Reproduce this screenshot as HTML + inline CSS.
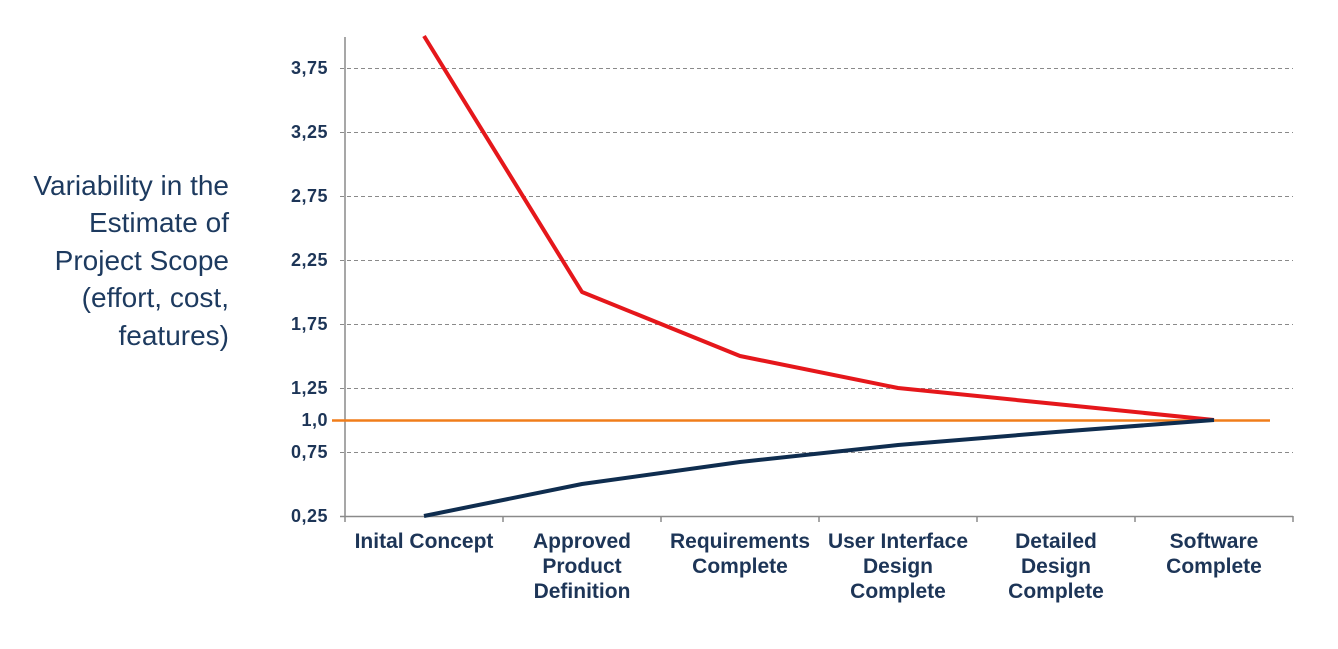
<!DOCTYPE html>
<html><head><style>
html,body{margin:0;padding:0;background:#fff;}
</style></head><body>
<svg width="1338" height="644" viewBox="0 0 1338 644" xmlns="http://www.w3.org/2000/svg" font-family="Liberation Sans, Arial, sans-serif">
<g stroke="#8a8a8a" stroke-width="1" stroke-dasharray="4,3">
<line x1="340" y1="68.5" x2="1293" y2="68.5"/>
<line x1="340" y1="132.5" x2="1293" y2="132.5"/>
<line x1="340" y1="196.5" x2="1293" y2="196.5"/>
<line x1="340" y1="260.5" x2="1293" y2="260.5"/>
<line x1="340" y1="324.5" x2="1293" y2="324.5"/>
<line x1="340" y1="388.5" x2="1293" y2="388.5"/>
<line x1="340" y1="452.5" x2="1293" y2="452.5"/>
</g>
<g stroke="#8a8a8a" stroke-width="1.5">
<line x1="345" y1="37" x2="345" y2="517"/>
<line x1="340" y1="516.5" x2="1293" y2="516.5"/>
<line x1="345" y1="516" x2="345" y2="522"/>
<line x1="503" y1="516" x2="503" y2="522"/>
<line x1="661" y1="516" x2="661" y2="522"/>
<line x1="819" y1="516" x2="819" y2="522"/>
<line x1="977" y1="516" x2="977" y2="522"/>
<line x1="1135" y1="516" x2="1135" y2="522"/>
<line x1="1293" y1="516" x2="1293" y2="522"/>
</g>
<line x1="332" y1="420.5" x2="1270" y2="420.5" stroke="#f07d1a" stroke-width="2.5"/>
<polyline points="424,36 582,292 740,356 898,388 1056,404 1214,420" fill="none" stroke="#e5171b" stroke-width="4" stroke-linejoin="round"/>
<polyline points="424,516 582,484 740,462 898,445 1056,432 1214,420" fill="none" stroke="#0f2d4f" stroke-width="4" stroke-linejoin="round"/>
<g fill="#1d3557" font-size="18" font-weight="bold" text-anchor="end" letter-spacing="0.5">
<text x="328" y="74">3,75</text>
<text x="328" y="138">3,25</text>
<text x="328" y="202">2,75</text>
<text x="328" y="266">2,25</text>
<text x="328" y="330">1,75</text>
<text x="328" y="394">1,25</text>
<text x="328" y="426">1,0</text>
<text x="328" y="458">0,75</text>
<text x="328" y="522">0,25</text>
</g>
<g fill="#1d3557" font-size="21" font-weight="bold" text-anchor="middle">
<text x="424" y="548">Inital Concept</text>
<text x="582" y="548">Approved</text><text x="582" y="573">Product</text><text x="582" y="598">Definition</text>
<text x="740" y="548">Requirements</text><text x="740" y="573">Complete</text>
<text x="898" y="548">User Interface</text><text x="898" y="573">Design</text><text x="898" y="598">Complete</text>
<text x="1056" y="548">Detailed</text><text x="1056" y="573">Design</text><text x="1056" y="598">Complete</text>
<text x="1214" y="548">Software</text><text x="1214" y="573">Complete</text>
</g>
<g fill="#1d3a5f" font-size="28" text-anchor="end">
<text x="229" y="195">Variability in the</text>
<text x="229" y="232">Estimate of</text>
<text x="229" y="270">Project Scope</text>
<text x="229" y="307">(effort, cost,</text>
<text x="229" y="345">features)</text>
</g>
</svg>
</body></html>
